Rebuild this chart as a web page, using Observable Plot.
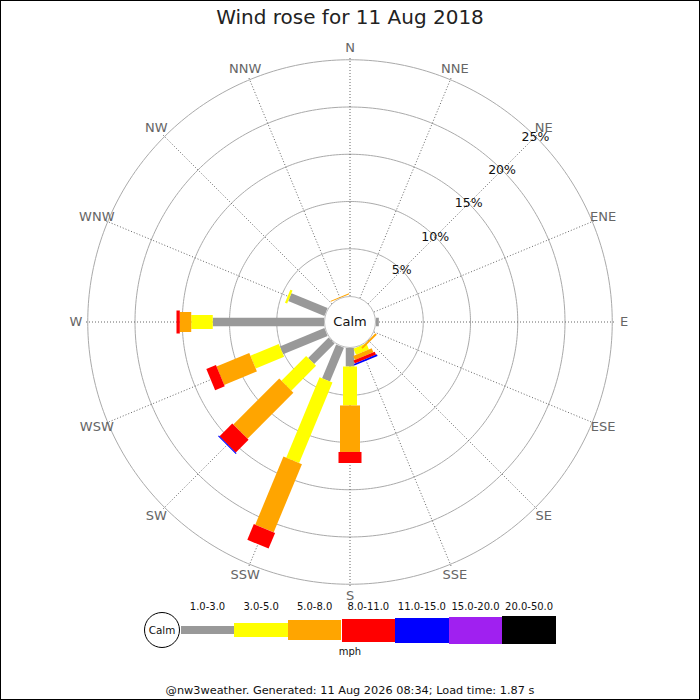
<!DOCTYPE html>
<html><head><meta charset="utf-8">
<script src="https://cdn.jsdelivr.net/npm/d3@7"></script>
<script src="https://cdn.jsdelivr.net/npm/@observablehq/plot@0.6"></script>
<style>
body{margin:0;background:#fff;font-family:"DejaVu Sans",sans-serif;}
#wrap{position:relative;width:700px;height:700px;overflow:hidden;background:#fff;}
#frame{position:absolute;left:0;top:0;width:700px;height:700px;box-sizing:border-box;border:1px solid #000;pointer-events:none;z-index:5;}
#title{position:absolute;left:0;top:0;width:700px;height:34px;line-height:34px;text-align:center;font-size:20px;color:#222;}
#chart{position:absolute;left:0;top:34px;}
#legend{position:absolute;left:0;top:595px;width:700px;height:70px;}
.seg{position:absolute;}
.lab{position:absolute;width:80px;text-align:center;font-size:10px;color:#111;}
#calm{position:absolute;box-sizing:border-box;border:1px solid #000;border-radius:50%;background:#fff;text-align:center;font-size:10.4px;color:#111;}
#mph{position:absolute;left:300px;width:100px;text-align:center;font-size:10px;color:#111;}
#footer{position:absolute;left:0;top:684px;width:700px;text-align:center;font-size:11.3px;color:#111;}
</style></head>
<body>
<div id="wrap">
  <div id="title">Wind rose for 11 Aug 2018</div>
  <div id="chart"></div>
  <div id="legend"></div>
  <div id="footer">@nw3weather. Generated: 11 Aug 2026 08:34; Load time: 1.87 s</div>
  <div id="frame"></div>
</div>
<script>
// ---- data ----
const directions = ["N","NNE","NE","ENE","E","ESE","SE","SSE","S","SSW","SW","WSW","W","WNW","NW","NNW"];
const speedBins = ["1.0-3.0","3.0-5.0","5.0-8.0","8.0-11.0","11.0-15.0","15.0-20.0","20.0-50.0"];
const speedUnit = "mph";
// percent of time per direction, per speed bin
const pct1to3   = [0,0,0,0,0.3,0,0,0,1.96,3.88,3.07,5.10,11.77,4.14,0,0];
const pct3to5   = [0,0,0,0,0,0,0,0.70,4.12,9.22,3.71,3.25,2.28,0.25,0,0];
const pct5to8   = [0,0,0,0,0,0,0.2,0.45,4.92,7.80,6.87,3.75,1.21,0,0,0.1];
const pct8to11  = [0,0,0,0,0,0,0,0.35,1.17,1.80,1.90,1.10,0.35,0,0,0];
const pct11to15 = [0,0,0,0,0,0,0,0.18,0,0,0.12,0,0,0,0,0];
const pct15to20 = [0,0,0,0,0,0,0,0,0,0,0,0,0,0,0,0];
const pct20to50 = [0,0,0,0,0,0,0,0,0,0,0,0,0,0,0,0];
const ringTicks = [5,10,15,20,25];
const ringLabels = ["5%","10%","15%","20%","25%"];

// ---- styles ----
const binColors = ["#999999","#ffff00","#ffa500","#ff0000","#0000ff","#a020f0","#000000"];
const binWidths = [8.5,14,20,23,25,27,28];
const legendHeights = [8.3,14.3,20.3,23,25,27,28];

const series = [pct1to3,pct3to5,pct5to8,pct8to11,pct11to15,pct15to20,pct20to50];

// ---- geometry ----
const K = 9.45;            // px per percent
const calmR = 26 / K;       // calm circle radius in percent units
const W = 700, H = 566;
const cx = 349.5, cy = 287.5;
const pol = (r, deg) => { const a = deg * Math.PI / 180; return [r * Math.sin(a), r * Math.cos(a)]; };

const segments = [];
directions.forEach((d, i) => {
  let cum = 0;
  series.forEach((s, b) => {
    const v = s[i];
    if (v > 0) {
      const [x1, y1] = pol(calmR + cum, i * 22.5);
      const [x2, y2] = pol(calmR + cum + v, i * 22.5);
      segments.push({dir: d, bin: b, x1, y1, x2, y2});
    }
    cum += v;
  });
});

const ringPts = [];
ringTicks.forEach(p => { for (let a = 0; a <= 360; a += 1) { const [x, y] = pol(calmR + p, a); ringPts.push({ring: p, x, y}); } });

const spokes = directions.map((d, i) => { const [x1, y1] = pol(calmR, i * 22.5); const [x2, y2] = pol(calmR + 25.3, i * 22.5); return {d, x1, y1, x2, y2}; });
const dirLabels = directions.map((d, i) => { const [x, y] = pol(calmR + 26.25, i * 22.5); return {d, x, y}; });
const pctLabels = ringTicks.map((p, i) => { const [x, y] = pol(calmR + p, 45); return {t: ringLabels[i], x, y}; });

const font = "DejaVu Sans";
const chart = Plot.plot({
  width: W, height: H, margin: 0,
  style: {fontFamily: font, background: "transparent", overflow: "visible"},
  x: {domain: [-cx / K, (W - cx) / K], range: [0, W], axis: null},
  y: {domain: [-(H - cy) / K, cy / K], range: [H, 0], axis: null},
  marks: [
    Plot.line(ringPts, {x: "x", y: "y", z: "ring", stroke: "#aaaaaa", strokeWidth: 1}),
    Plot.link(spokes, {x1: "x1", y1: "y1", x2: "x2", y2: "y2", stroke: "#555", strokeWidth: 0.9, strokeDasharray: "1,2"}),
    ...binColors.map((c, b) => Plot.link(segments.filter(s => s.bin === b), {
      x1: "x1", y1: "y1", x2: "x2", y2: "y2", stroke: c, strokeWidth: binWidths[b], strokeLinecap: "butt"
    })),
    Plot.dot([{x: 0, y: 0}], {x: "x", y: "y", r: 25.5, fill: "white", stroke: "#bbbbbb", strokeWidth: 1}),
    Plot.text([{x: 0, y: 0}], {x: "x", y: "y", text: () => "Calm", fontSize: 13, fill: "#111"}),
    Plot.text(dirLabels, {x: "x", y: "y", text: "d", fontSize: 13, fill: "#666"}),
    Plot.text(pctLabels, {x: "x", y: "y", text: "t", fontSize: 12.5, fill: "#111"})
  ]
});
document.getElementById("chart").appendChild(chart);

// ---- legend ----
const lg = document.getElementById("legend");
const legTop = 595, legMid = 630 - legTop, segX0 = 180.7, segW = 53.6;
const calm = document.createElement("div");
calm.id = "calm";
calm.style.left = "143.7px"; calm.style.top = (legMid - 18.3) + "px";
calm.style.width = "36.6px"; calm.style.height = "36.6px"; calm.style.lineHeight = "34.6px";
calm.textContent = "Calm";
speedBins.forEach((b, i) => {
  const s = document.createElement("div");
  s.className = "seg";
  s.style.left = (segX0 + i * segW) + "px";
  s.style.width = segW + "px";
  s.style.height = legendHeights[i] + "px";
  s.style.top = (legMid - legendHeights[i] / 2) + "px";
  s.style.background = binColors[i];
  lg.appendChild(s);
  const l = document.createElement("div");
  l.className = "lab";
  l.style.left = (segX0 + i * segW + segW / 2 - 40) + "px";
  l.style.top = (607 - legTop - 6) + "px";
  l.textContent = b;
  lg.appendChild(l);
});
lg.appendChild(calm);
const mph = document.createElement("div");
mph.id = "mph"; mph.style.top = (653 - legTop - 7) + "px"; mph.textContent = speedUnit;
lg.appendChild(mph);
</script>
</body></html>
